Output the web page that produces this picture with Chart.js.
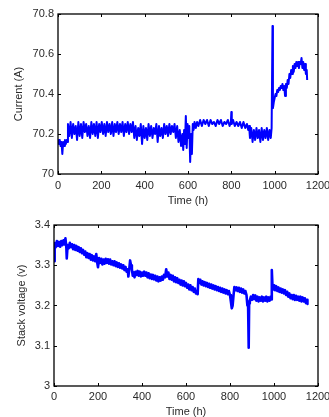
<!DOCTYPE html>
<html>
<head>
<meta charset="utf-8">
<script src="https://cdn.jsdelivr.net/npm/chart.js@4.4.1/dist/chart.umd.min.js"></script>
<style>
  html, body { margin: 0; padding: 0; background: #fff; overflow: hidden; width: 329px; height: 417px; }
  .box { position: absolute; left: 0; }
</style>
</head>
<body>
<div class="box" style="top:0;width:345px;height:210px"><canvas id="currentChart"></canvas></div>
<div class="box" style="top:208px;width:345px;height:209px"><canvas id="voltageChart"></canvas></div>
<script>
// tick labels
var timeTicks = [0, 200, 400, 600, 800, 1000, 1200];
var currentTicks = [70, 70.2, 70.4, 70.6, 70.8];
var voltageTicks = [3, 3.1, 3.2, 3.3, 3.4];

// current (A) vs time (h)
var currentSeries = [
  [0,70.17],[4,70.15],[8,70.17],[12,70.14],[16,70.16],[20,70.10],[24,70.16],[28,70.14],[32,70.17],[36,70.15],[40,70.17],[44,70.16],
  [46,70.25],[52,70.19],[58,70.26],[64,70.18],[70,70.25],[76,70.20],[82,70.24],[88,70.17],[94,70.26],[100,70.19],
  [106,70.25],[112,70.18],[118,70.26],[124,70.21],[130,70.25],[136,70.19],[142,70.24],[148,70.18],[154,70.26],[160,70.20],
  [166,70.25],[172,70.19],[178,70.26],[184,70.18],[190,70.25],[196,70.21],[202,70.26],[208,70.20],[214,70.25],[220,70.19],
  [226,70.26],[232,70.21],[238,70.25],[244,70.20],[250,70.26],[256,70.19],[262,70.25],[268,70.21],[274,70.26],[280,70.20],
  [286,70.25],[292,70.21],[298,70.26],[304,70.19],[310,70.25],[316,70.21],[322,70.26],[328,70.20],[334,70.25],[340,70.21],[346,70.26],
  [352,70.18],[358,70.24],[364,70.17],[370,70.23],[376,70.19],[382,70.25],[388,70.15],[394,70.24],[400,70.18],[406,70.23],
  [412,70.17],[418,70.25],[424,70.19],[430,70.24],[436,70.18],[442,70.23],[448,70.20],[454,70.25],[460,70.16],[466,70.24],
  [472,70.19],[478,70.23],[484,70.18],[490,70.25],[496,70.20],[502,70.24],[508,70.19],[514,70.25],[520,70.20],[526,70.24],
  [532,70.21],[538,70.25],
  [544,70.18],[550,70.24],[556,70.16],[562,70.22],[568,70.14],[574,70.20],[578,70.12],[582,70.22],[586,70.15],[590,70.29],
  [594,70.13],[598,70.25],[602,70.18],[606,70.24],[610,70.06],[614,70.20],[618,70.10],[622,70.25],[626,70.22],[630,70.26],
  [636,70.23],[642,70.26],[648,70.24],[656,70.27],[664,70.24],[672,70.27],[680,70.25],[688,70.27],[696,70.24],[704,70.27],
  [712,70.25],[720,70.26],[728,70.24],[736,70.27],[744,70.25],[752,70.27],[760,70.24],[768,70.26],[776,70.25],[784,70.27],
  [792,70.24],[798,70.26],[800,70.31],[802,70.25],[808,70.27],[816,70.24],[824,70.26],[832,70.24],[840,70.26],[848,70.23],
  [856,70.26],[864,70.23],[872,70.25],[878,70.22],
  [882,70.24],[886,70.18],[892,70.23],[898,70.16],[904,70.22],[910,70.17],[916,70.23],[922,70.18],[928,70.22],[934,70.16],
  [940,70.23],[946,70.17],[952,70.22],[958,70.18],[964,70.23],[970,70.17],[976,70.22],[982,70.18],[986,70.23],
  [990,70.74],[992,70.33],
  [996,70.36],[1000,70.38],[1004,70.40],[1008,70.39],[1012,70.42],[1016,70.41],[1020,70.43],[1024,70.42],[1028,70.44],[1032,70.43],
  [1036,70.45],[1040,70.42],[1044,70.44],[1048,70.39],[1052,70.45],[1056,70.43],[1060,70.47],[1064,70.45],[1068,70.50],[1072,70.48],
  [1076,70.52],[1080,70.50],[1084,70.54],[1088,70.51],[1092,70.55],[1096,70.53],[1100,70.56],[1104,70.54],[1108,70.56],[1112,70.53],
  [1116,70.56],[1120,70.55],[1124,70.58],[1128,70.53],[1132,70.56],[1136,70.52],[1140,70.55],[1144,70.50],[1148,70.52],[1150,70.47]
];

// stack voltage (V) vs time (h)
var voltageSeries = [
  [0,3.31],[3,3.355],[8,3.345],[13,3.36],[18,3.348],[23,3.358],[28,3.346],[33,3.36],[38,3.35],[43,3.362],[48,3.352],[52,3.367],
  [56,3.345],[58,3.317],[62,3.35],[67,3.342],[72,3.356],[77,3.345],[82,3.352],[87,3.34],[92,3.35],[97,3.338],[102,3.348],
  [107,3.336],[112,3.345],[117,3.333],[122,3.342],[127,3.33],[132,3.338],[137,3.326],[142,3.334],[147,3.32],[152,3.33],
  [157,3.318],[162,3.328],[167,3.314],[172,3.325],[177,3.312],[182,3.322],[187,3.31],[192,3.328],[197,3.305],[200,3.295],
  [205,3.318],[210,3.306],[215,3.316],[220,3.302],[225,3.314],[230,3.304],[235,3.316],[240,3.306],[245,3.315],[250,3.304],
  [255,3.314],[260,3.302],[265,3.31],[270,3.3],[275,3.31],[280,3.298],[285,3.307],[290,3.296],[295,3.305],[300,3.294],
  [305,3.302],[310,3.292],[315,3.3],[320,3.288],[325,3.296],[330,3.284],[335,3.29],[338,3.272],[342,3.29],[346,3.312],
  [350,3.3],[354,3.29],[358,3.274],[362,3.282],[366,3.27],[370,3.284],[375,3.276],[380,3.286],[385,3.274],[390,3.284],
  [395,3.272],[400,3.282],[405,3.274],[410,3.284],[415,3.274],[420,3.282],[425,3.27],[430,3.28],[435,3.268],[440,3.277],
  [445,3.266],[450,3.276],[455,3.265],[460,3.274],[465,3.262],[470,3.272],[475,3.26],[480,3.27],[485,3.262],[490,3.272],
  [495,3.264],[500,3.276],[505,3.27],[510,3.29],[515,3.272],[520,3.282],[525,3.266],[530,3.276],[535,3.264],[540,3.274],
  [545,3.26],[550,3.27],[555,3.258],[560,3.268],[565,3.256],[570,3.264],[575,3.252],[580,3.262],[585,3.25],[590,3.26],
  [595,3.248],[600,3.256],[605,3.244],[610,3.252],[615,3.24],[620,3.25],[625,3.238],[630,3.246],[635,3.234],[640,3.242],
  [645,3.23],[650,3.236],[653,3.228],[656,3.266],[660,3.256],[665,3.264],[670,3.252],[675,3.26],[680,3.25],[685,3.258],
  [690,3.248],[695,3.256],[700,3.246],[705,3.254],[710,3.244],[715,3.252],[720,3.242],[725,3.25],[730,3.24],[735,3.248],
  [740,3.238],[745,3.246],[750,3.236],[755,3.244],[760,3.234],[765,3.242],[770,3.232],[775,3.24],[780,3.23],[785,3.238],
  [790,3.228],[795,3.236],[800,3.226],[804,3.21],[808,3.193],[812,3.2],[816,3.225],[820,3.246],[825,3.238],[830,3.245],
  [835,3.236],[840,3.244],[845,3.234],[850,3.242],[855,3.232],[860,3.24],[865,3.23],[870,3.236],[875,3.226],[879,3.2],
  [882,3.21],[885,3.095],[887,3.205],[890,3.212],[895,3.222],[900,3.214],[905,3.226],[910,3.216],[915,3.225],[920,3.212],
  [925,3.222],[930,3.21],[935,3.22],[940,3.212],[945,3.222],[950,3.21],[955,3.22],[960,3.212],[965,3.222],[970,3.21],
  [975,3.22],[980,3.212],[985,3.222],[988,3.215],[990,3.288],[993,3.25],[997,3.24],[1001,3.25],[1005,3.238],[1010,3.248],
  [1015,3.236],[1020,3.245],[1025,3.234],[1030,3.242],[1035,3.232],[1040,3.24],[1045,3.23],[1050,3.238],[1055,3.226],
  [1060,3.234],[1065,3.222],[1070,3.23],[1075,3.218],[1080,3.226],[1085,3.216],[1090,3.226],[1095,3.214],[1100,3.224],
  [1105,3.214],[1110,3.222],[1115,3.212],[1120,3.222],[1125,3.21],[1130,3.22],[1135,3.21],[1140,3.218],[1145,3.206],
  [1150,3.214],[1152,3.204]
];

var fontFamily = "'Liberation Sans', Arial, sans-serif";
var textColor = '#2a2a2a';

// matlab style box with inward ticks on all four sides
var boxTicks = {
    id: 'boxTicks',
    afterDraw: function(chart) {
        var ctx = chart.ctx;
        var a = chart.chartArea;
        var len = 3;
        ctx.save();
        ctx.strokeStyle = '#000';
        ctx.lineWidth = 1;
        ctx.beginPath();
        chart.scales.x.ticks.forEach(function(t) {
            var px = Math.round(chart.scales.x.getPixelForValue(t.value)) + 0.5;
            ctx.moveTo(px, a.bottom); ctx.lineTo(px, a.bottom - len);
            ctx.moveTo(px, a.top); ctx.lineTo(px, a.top + len);
        });
        chart.scales.y.ticks.forEach(function(t) {
            var py = Math.round(chart.scales.y.getPixelForValue(t.value)) + 0.5;
            ctx.moveTo(a.left, py); ctx.lineTo(a.left + len, py);
            ctx.moveTo(a.right, py); ctx.lineTo(a.right - len, py);
        });
        ctx.stroke();
        ctx.lineWidth = 1.3;
        ctx.strokeRect(a.left, a.top, a.right - a.left, a.bottom - a.top);
        ctx.restore();
    }
};

function makeChart(id, series, yTicks, yTitle, opts) {
    var ctx = document.getElementById(id).getContext('2d');
    return new Chart(ctx, {
        type: 'line',
        data: {
            datasets: [{
                data: series.map(function(p) { return { x: p[0], y: p[1] }; }),
                borderColor: '#0000ff',
                borderWidth: opts.lineWidth,
                borderJoinStyle: 'round',
                pointRadius: 0,
                tension: 0,
                fill: false
            }]
        },
        options: {
            responsive: true,
            maintainAspectRatio: false,
            animation: false,
            layout: {
                padding: { top: opts.top, right: 27, left: 0, bottom: 0 }
            },
            plugins: {
                legend: { display: false },
                tooltip: { enabled: false }
            },
            scales: {
                x: {
                    type: 'linear',
                    min: 0,
                    max: 1200,
                    afterBuildTicks: function(scale) {
                        scale.ticks = timeTicks.map(function(v) { return { value: v }; });
                    },
                    afterFit: function(scale) { scale.height = opts.xHeight; },
                    grid: { display: false, drawTicks: false },
                    border: { display: false },
                    ticks: {
                        padding: opts.xPad,
                        maxRotation: 0,
                        autoSkip: false,
                        color: textColor,
                        font: { family: fontFamily, size: 11 },
                        callback: function(v) { return String(v); }
                    },
                    title: {
                        display: true,
                        text: 'Time (h)',
                        color: textColor,
                        font: { family: fontFamily, size: 11, lineHeight: 1 },
                        padding: { top: 0, bottom: opts.titlePad }
                    }
                },
                y: {
                    min: yTicks[0],
                    max: yTicks[yTicks.length - 1],
                    afterBuildTicks: function(scale) {
                        scale.ticks = yTicks.map(function(v) { return { value: v }; });
                    },
                    afterFit: function(scale) { scale.width = opts.yWidth; },
                    grid: { display: false, drawTicks: false },
                    border: { display: false },
                    ticks: {
                        padding: 4,
                        autoSkip: false,
                        color: textColor,
                        font: { family: fontFamily, size: 11 },
                        callback: function(v) { return String(Math.round(v * 10) / 10); }
                    },
                    title: {
                        display: true,
                        text: yTitle,
                        color: textColor,
                        font: { family: fontFamily, size: 11, lineHeight: 1 },
                        padding: { top: opts.yTitlePad, bottom: 0 }
                    }
                }
            }
        },
        plugins: [boxTicks]
    });
}

makeChart('currentChart', currentSeries, currentTicks, 'Current (A)',
    { top: 14, xHeight: 36, yWidth: 58, xPad: 5, titlePad: 4, yTitlePad: 13, lineWidth: 2 });
makeChart('voltageChart', voltageSeries, voltageTicks, 'Stack voltage (v)',
    { top: 17, xHeight: 31, yWidth: 54, xPad: 4, titlePad: 0, yTitlePad: 16, lineWidth: 2.6 });
</script>
</body>
</html>
